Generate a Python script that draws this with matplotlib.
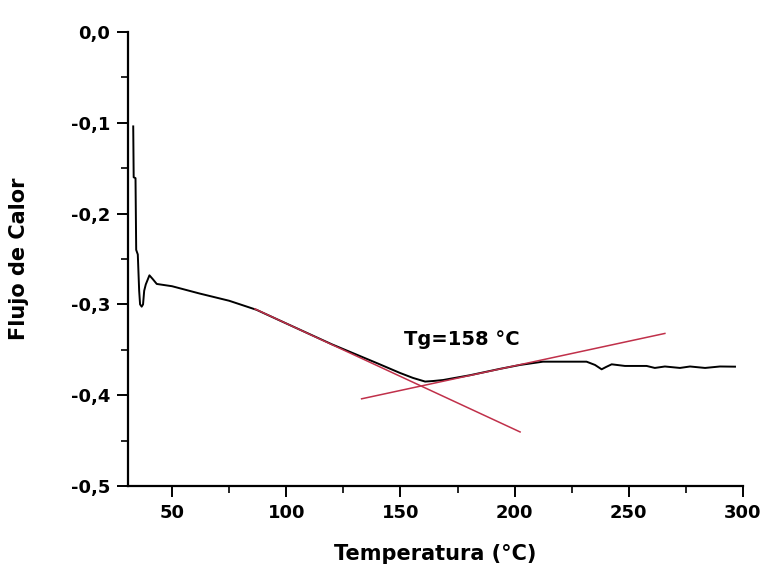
import matplotlib
matplotlib.use("Agg")
import matplotlib.pyplot as plt
from matplotlib.ticker import MultipleLocator, FuncFormatter

# DSC trace: temperature (°C) and heat flow
temperatura = [33.0, 33.2, 34.0, 34.3, 35.0, 35.6, 36.0, 36.7, 37.3, 37.8, 38.5,
               40.1, 41.5, 43.3, 50.0, 62.0, 75.0, 87.0, 100.0, 120.0, 140.0,
               149.8, 155.5, 160.8, 164.3, 168.7, 180.5, 193.6, 202.4, 212.4,
               231.5, 235.2, 238.1, 240.0, 242.5, 248.3, 257.8, 261.4, 265.8,
               272.4, 276.8, 283.4, 289.9, 296.5]
flujo = [-0.104, -0.160, -0.161, -0.240, -0.245, -0.285, -0.300, -0.3025, -0.300,
         -0.285, -0.278, -0.268, -0.272, -0.2775, -0.280, -0.288, -0.296, -0.306,
         -0.321, -0.344, -0.365, -0.3755, -0.381, -0.385, -0.3844, -0.3833,
         -0.378, -0.371, -0.3667, -0.3631, -0.3631, -0.3667, -0.3715, -0.369,
         -0.366, -0.3678, -0.3678, -0.370, -0.3684, -0.370, -0.3684, -0.370,
         -0.3684, -0.3686]

# Tangent lines used to locate the glass transition
tangente1_x = [86.3, 202.4]
tangente1_y = [-0.305, -0.4405]
tangente2_x = [133.0, 265.8]
tangente2_y = [-0.404, -0.332]

tg_texto = "Tg=158 °C"
tg_pos = (176.8, -0.339)

plt.rcParams['font.family'] = ['DejaVu Sans']
plt.rcParams['font.weight'] = 'bold'

fig = plt.figure(figsize=(7.64, 5.70), dpi=100)
ax = fig.add_axes([0.1675, 0.1474, 0.805, 0.7965])

ax.plot(temperatura, flujo, color='black', lw=1.4)
ax.plot(tangente1_x, tangente1_y, color='#c0304a', lw=1.1)
ax.plot(tangente2_x, tangente2_y, color='#c0304a', lw=1.1)

ax.text(tg_pos[0], tg_pos[1], tg_texto, ha='center', va='center',
        fontsize=14, fontweight='bold')

ax.set_xlim(30.7, 300)
ax.set_ylim(-0.5, 0.0)

for side in ('top', 'right'):
    ax.spines[side].set_visible(False)
for side in ('left', 'bottom'):
    ax.spines[side].set_linewidth(1.6)

ax.xaxis.set_major_locator(MultipleLocator(50))
ax.xaxis.set_minor_locator(MultipleLocator(25))
ax.yaxis.set_major_locator(MultipleLocator(0.1))
ax.yaxis.set_minor_locator(MultipleLocator(0.05))
ax.yaxis.set_major_formatter(FuncFormatter(lambda v, p: f"{v:.1f}".replace('.', ',').replace('-0,0', '0,0')))

ax.tick_params(axis='both', which='major', direction='out', length=8, width=1.4,
               labelsize=13, pad=5)
ax.tick_params(axis='both', which='minor', direction='out', length=5, width=1.2)
ax.tick_params(axis='y', which='major', pad=5)
for lbl in ax.get_xticklabels() + ax.get_yticklabels():
    lbl.set_fontweight('bold')

ax.set_xlabel("Temperatura (°C)", fontsize=15, fontweight='bold', labelpad=16)
ax.set_ylabel("Flujo de Calor", fontsize=15, fontweight='bold', labelpad=30)

fig.savefig("out.png", dpi=100, facecolor='white')
